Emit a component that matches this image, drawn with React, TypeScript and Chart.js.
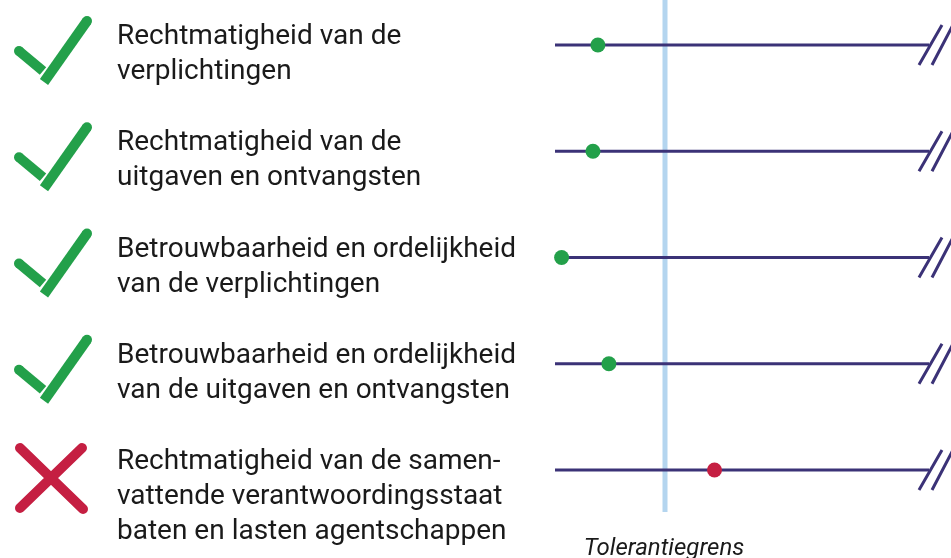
import React, { useEffect, useRef } from "react";
import { Chart, registerables } from "chart.js";

Chart.register(...registerables);

const categories: string[][] = [
  ["Rechtmatigheid van de", "verplichtingen"],
  ["Rechtmatigheid van de", "uitgaven en ontvangsten"],
  ["Betrouwbaarheid en ordelijkheid", "van de verplichtingen"],
  ["Betrouwbaarheid en ordelijkheid", "van de uitgaven en ontvangsten"],
  ["Rechtmatigheid van de samen-", "vattende verantwoordingsstaat", "baten en lasten agentschappen"],
];
const errorRates = [0.39, 0.345, 0.06, 0.49, 1.45];
const passed = [true, true, true, true, false];
const toleranceLimit = 1;
const axisEnd = 3.4;
const toleranceLabel = "Tolerantiegrens";

const GREEN = "#23a04a";
const RED = "#c51f42";
const NAVY = "#3b3277";
const LIGHTBLUE = "#b4d5ef";

export default function App() {
  const ref = useRef<HTMLCanvasElement | null>(null);
  useEffect(() => {
    document.body.style.margin = "0";
    const canvas = ref.current!;
    const decor = {
      id: "decor",
      afterDatasetsDraw(chart: any) {
        const ctx = chart.ctx as CanvasRenderingContext2D;
        const xs = chart.scales.x;
        const ys = chart.scales.y;
        ctx.save();
        categories.forEach((lines, i) => {
          const yp = ys.getPixelForValue(i);
          // label text
          ctx.fillStyle = "#1a1a1a";
          ctx.font = "28px Roboto";
          ctx.textAlign = "left";
          ctx.textBaseline = "alphabetic";
          lines.forEach((t, j) => ctx.fillText(t, 117, yp - 1 + j * 35));
          // icon
          ctx.lineWidth = 10;
          if (passed[i]) {
            ctx.strokeStyle = GREEN;
            ctx.fillStyle = GREEN;
            ctx.lineCap = "butt";
            ctx.beginPath();
            ctx.moveTo(19, yp + 6);
            ctx.lineTo(43, yp + 26);
            ctx.stroke();
            ctx.beginPath();
            ctx.arc(19, yp + 6, 5, 0, Math.PI * 2);
            ctx.fill();
            ctx.beginPath();
            ctx.moveTo(44, yp + 37);
            ctx.lineTo(87, yp - 24);
            ctx.stroke();
            ctx.beginPath();
            ctx.arc(87, yp - 24, 5, 0, Math.PI * 2);
            ctx.fill();
          } else {
            ctx.strokeStyle = RED;
            ctx.lineCap = "round";
            ctx.beginPath();
            ctx.moveTo(20, yp - 22);
            ctx.lineTo(83, yp + 39);
            ctx.moveTo(82, yp - 22);
            ctx.lineTo(20, yp + 38);
            ctx.stroke();
          }
          // break mark
          const xe = xs.getPixelForValue(axisEnd);
          ctx.strokeStyle = NAVY;
          ctx.lineWidth = 3;
          ctx.lineCap = "butt";
          ctx.beginPath();
          ctx.moveTo(xe - 10, yp + 20);
          ctx.lineTo(xe + 13, yp - 20);
          ctx.moveTo(xe + 3, yp + 20);
          ctx.lineTo(xe + 24, yp - 20);
          ctx.stroke();
        });
        ctx.fillStyle = "#1a1a1a";
        ctx.font = "italic 24px Roboto";
        ctx.textAlign = "center";
        ctx.textBaseline = "alphabetic";
        ctx.fillText(toleranceLabel, xs.getPixelForValue(toleranceLimit) - 1, 555);
        ctx.restore();
      },
    };

    const rowLines = categories.map((_, i) => ({
      data: [
        { x: 0, y: i },
        { x: axisEnd, y: i },
      ],
      showLine: true,
      borderColor: NAVY,
      borderWidth: 3,
      pointRadius: 0,
    }));

    const chart = new Chart(canvas, {
      type: "scatter",
      data: {
        datasets: [
          {
            data: errorRates.map((v, i) => ({ x: v, y: i })),
            pointRadius: 7.5,
            pointBackgroundColor: passed.map((p) => (p ? GREEN : RED)),
            pointBorderWidth: 0,
            showLine: false,
          } as any,
          ...rowLines,
          {
            data: [
              { x: toleranceLimit, y: -1 },
              { x: toleranceLimit, y: 4.395 },
            ],
            showLine: true,
            borderColor: LIGHTBLUE,
            borderWidth: 5,
            pointRadius: 0,
          },
        ],
      },
      options: {
        animation: false,
        responsive: true,
        maintainAspectRatio: false,
        layout: { padding: 0, autoPadding: false },
        plugins: { legend: { display: false }, tooltip: { enabled: false } },
        scales: {
          x: { type: "linear", display: false, min: -555 / 110, max: 396 / 110 },
          y: { type: "linear", display: false, reverse: true, min: -45 / 106.25, max: 513 / 106.25 },
        },
      },
      plugins: [decor],
    });
    return () => chart.destroy();
  }, []);
  return (
    <div style={{ width: 951, height: 558, position: "relative" }}>
      <canvas ref={ref} />
    </div>
  );
}
